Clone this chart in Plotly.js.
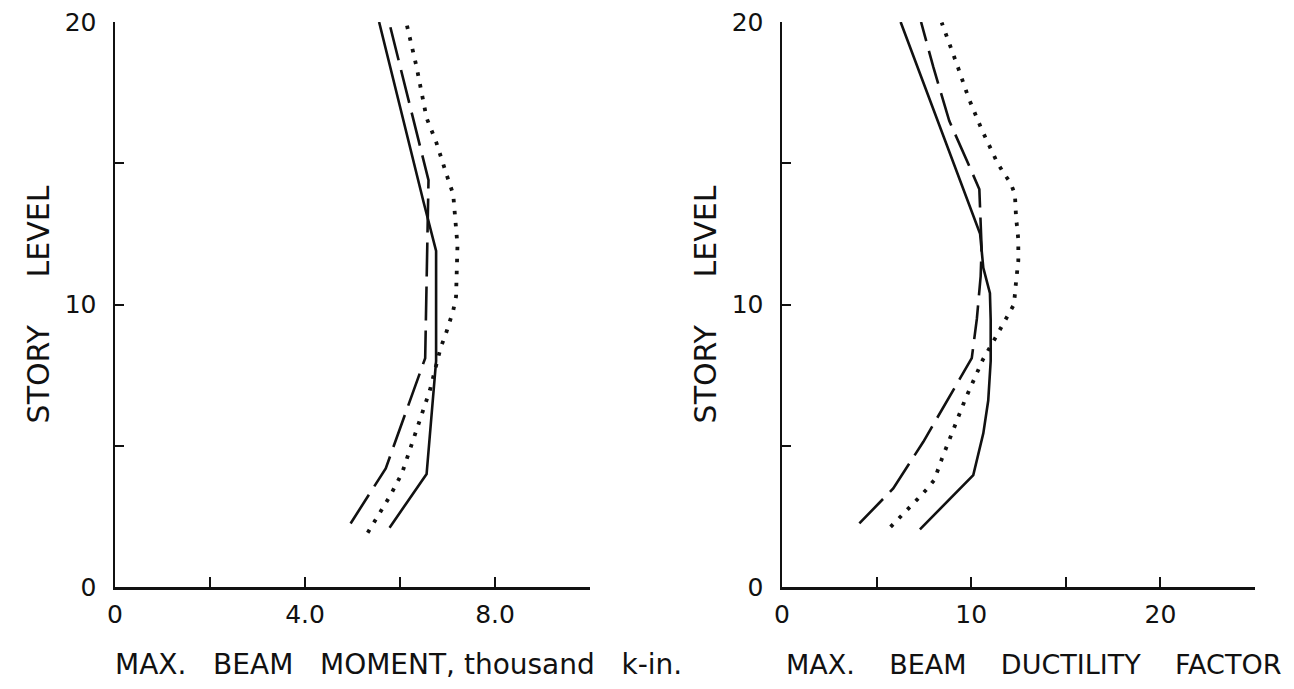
<!DOCTYPE html>
<html>
<head>
<meta charset="utf-8">
<script src="https://cdn.plot.ly/plotly-3.0.1.min.js"></script>
<style>html,body{margin:0;padding:0;background:#fff;}#chart{width:1294px;height:689px;}</style>
</head>
<body>
<div id="chart"></div>
<script>
// ---- Left panel: max. beam moment (thousand k-in.) vs story level ----
const momentSolidX  = [5.78, 6.56, 6.76, 6.76, 6.50, 5.56];
const momentSolidY  = [2.1, 4.0, 8.0, 11.9, 13.6, 20.0];
const momentDashX   = [4.96, 5.70, 6.53, 6.56, 6.60, 5.77];
const momentDashY   = [2.25, 4.2, 8.1, 11.0, 14.4, 20.0];
const momentDotX    = [5.32, 5.65, 5.79, 6.04, 6.63, 6.86, 6.95, 7.04, 7.12, 7.18, 7.20, 7.21, 7.16, 7.12, 6.98, 6.76, 6.56, 6.35, 6.13];
const momentDotY    = [1.92, 2.79, 3.22, 4.02, 6.97, 8.5, 8.88, 9.36, 9.78, 10.28, 11.1, 12.1, 13.1, 13.9, 14.6, 15.76, 16.6, 18.4, 20.0];

// ---- Right panel: max. beam ductility factor vs story level ----
const ductSolidX = [7.29, 10.11, 10.64, 10.90, 11.03, 11.03, 10.99, 10.64, 10.47, 6.27];
const ductSolidY = [2.04, 3.96, 5.44, 6.6, 8.0, 9.45, 10.4, 11.3, 12.5, 20.0];
const ductDashX  = [4.09, 5.88, 7.47, 10.03, 10.30, 10.50, 10.55, 10.50, 10.43, 9.90, 8.84, 8.00, 7.35];
const ductDashY  = [2.25, 3.49, 5.14, 8.1, 9.5, 11.0, 12.0, 13.0, 14.08, 14.9, 16.5, 18.4, 20.0];
const ductDotX   = [5.74, 6.68, 7.15, 7.65, 8.05, 8.44, 9.05, 9.67, 9.94, 10.61, 11.31, 11.64, 11.96, 12.26, 12.37, 12.49, 12.49, 12.37, 12.31, 12.09, 11.73, 11.38, 10.55, 10.29, 9.85, 9.32, 8.67, 8.44];
const ductDotY   = [2.13, 2.75, 3.10, 3.46, 3.79, 4.52, 5.58, 6.62, 7.03, 8.04, 8.86, 9.24, 9.63, 10.0, 10.8, 11.55, 12.3, 13.1, 13.9, 14.29, 14.64, 15.02, 16.2, 16.63, 17.33, 18.36, 19.56, 19.98];

// ---- Axis ticks / labels ----
const momentTicks  = [0, 2, 4, 6, 8, 10];
const momentLabels = ['0', '', '4.0', '', '8.0', ''];
const ductTicks    = [0, 5, 10, 15, 20, 25];
const ductLabels   = ['0', '', '10', '', '20', ''];
const storyTicks   = [0, 5, 10, 15, 20];
const storyLabels  = ['0', '', '10', '', '20'];

const NB = '\u00A0';
const momentTitle = ['MAX.', 'BEAM', 'MOMENT,' + NB + 'thousand', 'k-in.'].join(NB + NB + NB);
const ductTitle   = ['MAX.', 'BEAM', 'DUCTILITY', 'FACTOR'].join(NB + NB + NB + NB);
const storyTitle  = 'STORY' + NB.repeat(5) + 'LEVEL';

const INK = '#111';
const FONT = 'DejaVu Sans, sans-serif';
const solid = {color: INK, width: 2.6, dash: 'solid'};
const dashed = {color: INK, width: 2.6, dash: '34px,10px'};
const dotted = {color: INK, width: 3.8, dash: '3.5px,8.5px'};

const traces = [
  {x: momentSolidX, y: momentSolidY, xaxis: 'x', yaxis: 'y', mode: 'lines', line: solid, name: 'solid'},
  {x: momentDashX, y: momentDashY, xaxis: 'x', yaxis: 'y', mode: 'lines', line: dashed, name: 'dashed'},
  {x: momentDotX, y: momentDotY, xaxis: 'x', yaxis: 'y', mode: 'lines', line: dotted, name: 'dotted'},
  {x: ductSolidX, y: ductSolidY, xaxis: 'x2', yaxis: 'y2', mode: 'lines', line: solid, name: 'solid'},
  {x: ductDashX, y: ductDashY, xaxis: 'x2', yaxis: 'y2', mode: 'lines', line: dashed, name: 'dashed'},
  {x: ductDotX, y: ductDotY, xaxis: 'x2', yaxis: 'y2', mode: 'lines', line: dotted, name: 'dotted'}
];

function xAxis(domain, range, vals, labels, anchor) {
  return {
    domain: domain, range: range, anchor: anchor,
    tickmode: 'array', tickvals: vals, ticktext: labels,
    ticks: 'inside', ticklen: 10, tickwidth: 2, tickcolor: INK,
    showline: true, linewidth: 2.5, linecolor: INK,
    showgrid: false, zeroline: false, fixedrange: true,
    tickfont: {family: FONT, size: 25, color: INK},
    ticklabelstandoff: 3
  };
}
function yAxis(domain, title, anchor) {
  return {
    domain: domain, range: [0, 20], anchor: anchor,
    tickmode: 'array', tickvals: storyTicks, ticktext: storyLabels,
    ticks: 'inside', ticklen: 9, tickwidth: 2, tickcolor: INK,
    showline: true, linewidth: 2.5, linecolor: INK,
    showgrid: false, zeroline: false, fixedrange: true,
    tickfont: {family: FONT, size: 25, color: INK},
    ticklabelstandoff: 11,
    title: {text: title, font: {family: FONT, size: 30, color: INK}, standoff: 6}
  };
}

const yDom = [102 / 689, 667 / 689];
const titleY = (689 - 664) / 689;
const layout = {
  width: 1294, height: 689,
  margin: {l: 0, r: 0, t: 0, b: 0},
  paper_bgcolor: '#fff', plot_bgcolor: '#fff',
  showlegend: false,
  xaxis:  xAxis([115 / 1294, 590 / 1294], [0, 10], momentTicks, momentLabels, 'y'),
  yaxis:  yAxis(yDom, storyTitle, 'x'),
  xaxis2: xAxis([782 / 1294, 1255 / 1294], [0, 25], ductTicks, ductLabels, 'y2'),
  yaxis2: yAxis(yDom, storyTitle, 'x2'),
  annotations: [
    {text: momentTitle, xref: 'paper', yref: 'paper', x: 113 / 1294, y: titleY,
     xanchor: 'left', yanchor: 'middle', showarrow: false,
     font: {family: FONT, size: 28, color: INK}},
    {text: ductTitle, xref: 'paper', yref: 'paper', x: 784 / 1294, y: titleY,
     xanchor: 'left', yanchor: 'middle', showarrow: false,
     font: {family: FONT, size: 27, color: INK}}
  ]
};

Plotly.newPlot('chart', traces, layout, {staticPlot: true, displayModeBar: false});
</script>
</body>
</html>
